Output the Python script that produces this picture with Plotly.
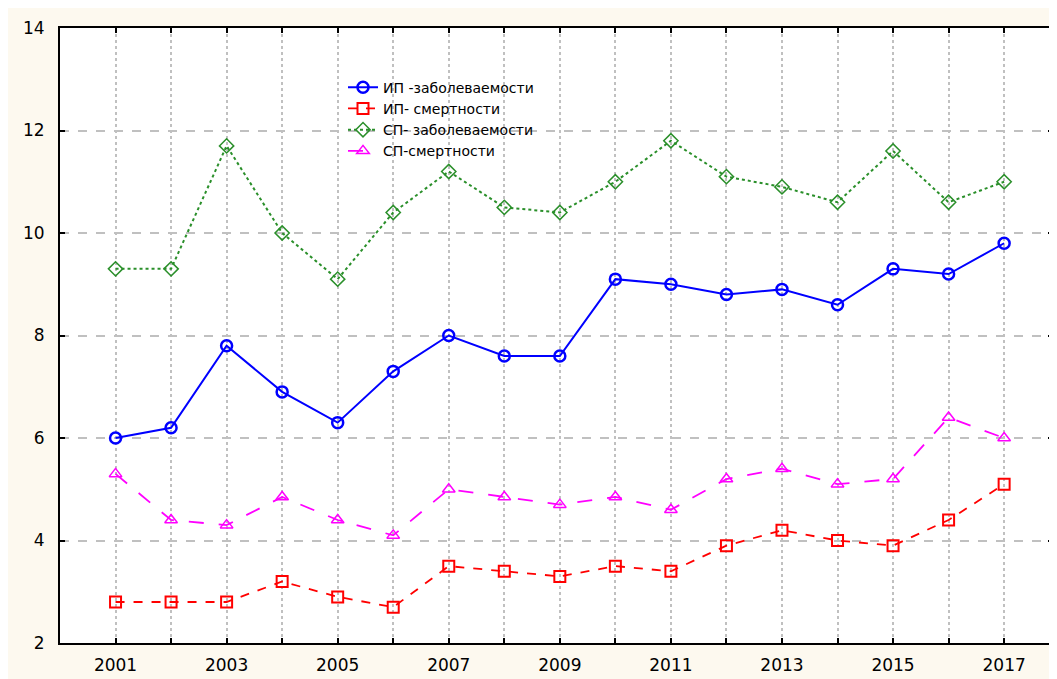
import plotly.graph_objects as go

years = list(range(2001, 2018))
ip_morb = [6.0, 6.2, 7.8, 6.9, 6.3, 7.3, 8.0, 7.6, 7.6, 9.1, 9.0, 8.8, 8.9, 8.6, 9.3, 9.2, 9.8]
ip_mort = [2.8, 2.8, 2.8, 3.2, 2.9, 2.7, 3.5, 3.4, 3.3, 3.5, 3.4, 3.9, 4.2, 4.0, 3.9, 4.4, 5.1]
sp_morb = [9.3, 9.3, 11.7, 10.0, 9.1, 10.4, 11.2, 10.5, 10.4, 11.0, 11.8, 11.1, 10.9, 10.6, 11.6, 10.6, 11.0]
sp_mort = [5.3, 4.4, 4.3, 4.85, 4.4, 4.1, 5.0, 4.85, 4.7, 4.85, 4.6, 5.2, 5.4, 5.1, 5.2, 6.4, 6.0]
names = ["ИП -заболеваемости", "ИП- смертности", "СП- заболеваемости", "СП-смертности"]
x_labels = [str(y) if y % 2 == 1 else "" for y in years]
y_ticks = [2, 4, 6, 8, 10, 12, 14]

fig = go.Figure()
fig.add_trace(go.Scatter(x=years, y=ip_morb, name=names[0], mode="lines+markers",
                         line=dict(color="#0000ff", width=2, dash="solid"),
                         marker=dict(symbol="circle-open", size=11, color="#0000ff", line=dict(width=2.5))))
fig.add_trace(go.Scatter(x=years, y=ip_mort, name=names[1], mode="lines+markers",
                         line=dict(color="#ff0000", width=1.8, dash="dash"),
                         marker=dict(symbol="square-open", size=11, color="#ff0000", line=dict(width=2))))
fig.add_trace(go.Scatter(x=years, y=sp_morb, name=names[2], mode="lines+markers",
                         line=dict(color="#2a8f2a", width=2, dash="dot"),
                         marker=dict(symbol="diamond-open", size=11, color="#2a8f2a", line=dict(width=1.5))))
fig.add_trace(go.Scatter(x=years, y=sp_mort, name=names[3], mode="lines+markers",
                         line=dict(color="#ff00ff", width=1.8, dash="longdash"),
                         marker=dict(symbol="triangle-up-open", size=11, color="#ff00ff", line=dict(width=1.5))))

fig.update_layout(
    width=1057, height=679,
    margin=dict(l=52, r=10, t=16, b=44),
    paper_bgcolor="#fdf9ef", plot_bgcolor="#ffffff",
    font=dict(family="DejaVu Sans, Liberation Sans, sans-serif", size=17, color="#000000"),
    showlegend=True,
    legend=dict(x=0.285, y=0.929, xanchor="left", yanchor="top", bgcolor="rgba(0,0,0,0)",
                font=dict(size=14), tracegroupgap=0, itemwidth=30),
    xaxis=dict(range=[2000, 2017.88], tickvals=years, ticktext=x_labels,
               showgrid=True, gridcolor="#c0c0c0", griddash="dot", gridwidth=1.5,
               showline=True, linecolor="#000000", linewidth=2, mirror="ticks",
               ticks="inside", ticklen=5, tickwidth=2, tickcolor="#000000", zeroline=False,
               ticklabelstandoff=6),
    yaxis=dict(range=[2, 14], tickvals=y_ticks,
               showgrid=True, gridcolor="#c0c0c0", griddash="dash", gridwidth=1.5,
               showline=True, linecolor="#000000", linewidth=2, mirror="ticks",
               ticks="inside", ticklen=5, tickwidth=2, tickcolor="#000000", zeroline=False,
               ticklabelstandoff=10),
)
fig.write_html("out.html")
